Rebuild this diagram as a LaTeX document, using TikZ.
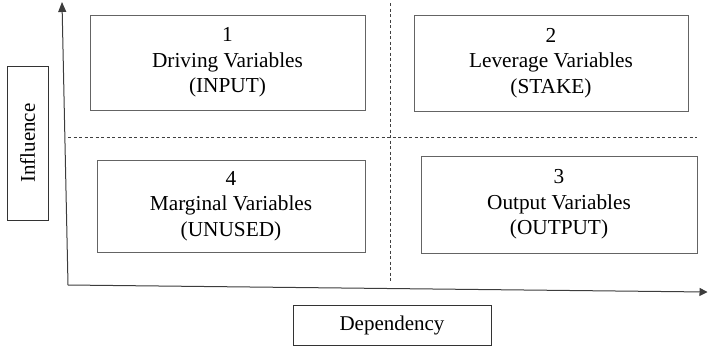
\documentclass[tikz,border=0pt]{standalone}
\usepackage{fontspec}
\setmainfont{Liberation Serif}
\usetikzlibrary{arrows.meta}
\definecolor{boxgray}{RGB}{100,100,100}
\definecolor{axisgray}{RGB}{60,60,60}
\tikzset{
  quad/.style={draw=boxgray, line width=1pt, align=center, inner sep=0pt,
    font=\fontsize{21.3}{25.5}\selectfont, text=black},
  axislabel/.style={draw=black!80, line width=1pt, inner sep=0pt,
    font=\fontsize{21}{25}\selectfont, text=black},
  axisline/.style={draw=axisgray, line width=1pt},
  divider/.style={draw=black!75, line width=0.8pt, dash pattern=on 3pt off 2.5pt}
}
\begin{document}
\begin{tikzpicture}[x=1pt,y=-1pt]
\useasboundingbox (0,0) rectangle (708,346);
% quadrant boxes
\node[quad, minimum width=275pt, minimum height=95pt] (q1) at (227.5,62.5)
  {1\\Driving Variables\\(INPUT)};
\node[quad, minimum width=274pt, minimum height=96pt] (q2) at (551,63)
  {2\\Leverage Variables\\(STAKE)};
\node[quad, minimum width=268pt, minimum height=92pt] (q4) at (231,206)
  {4\\Marginal Variables\\(UNUSED)};
\node[quad, minimum width=276pt, minimum height=97pt] (q3) at (559,204.5)
  {3\\Output Variables\\(OUTPUT)};
% axis labels
\node[axislabel, rotate=90, minimum width=154pt, minimum height=41pt] (infl) at (27.5,143)
  {Influence};
\node[axislabel, minimum width=198pt, minimum height=40pt] (dep) at (392,325.5)
  {Dependency};
% axes
\coordinate (o) at (68,285);
\coordinate (ytop) at (62,2);
\coordinate (xend) at (707.5,292);
\draw[axisline, -{Triangle[length=10pt,width=8pt]}] (o) -- (ytop);
\draw[axisline, -{Triangle[length=8pt,width=8pt]}] (o) -- (xend);
% dividers
\coordinate (hl) at (68,137);
\coordinate (hr) at (697,137);
\coordinate (vt) at (390,3);
\coordinate (vb) at (390,283);
\draw[divider] (hl) -- (hr);
\draw[divider] (vt) -- (vb);
\end{tikzpicture}
\end{document}
